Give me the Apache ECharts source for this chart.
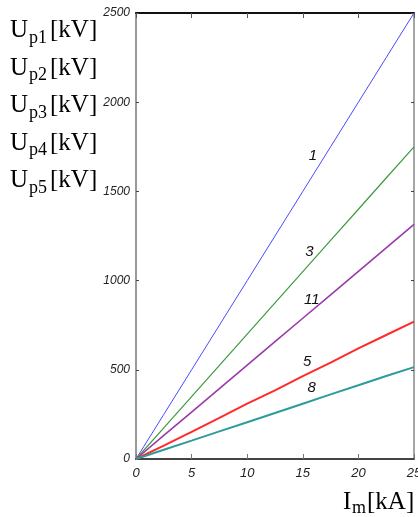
<!DOCTYPE html>
<html>
<head>
<meta charset="utf-8">
<script src="https://cdn.jsdelivr.net/npm/echarts@6/dist/echarts.min.js"></script>
<style>
  html, body { margin: 0; padding: 0; background: #fff; }
  #chart { width: 418px; height: 517px; }
</style>
</head>
<body>
<div id="chart"></div>
<script>
// Peak current Im [kA]
const currentKA = [0, 2.5, 5, 7.5, 10, 12.5, 15, 17.5, 20, 22.5, 25];

// Peak voltages Up [kV] for each curve
const curve1 = [0, 250, 500, 750, 1000, 1250, 1500, 1750, 2000, 2250, 2500];
const curve3 = [0, 175, 350, 525, 700, 875, 1050, 1225, 1400, 1575, 1750];
const curve11 = [0, 132, 263, 395, 526, 658, 789, 920, 1052, 1183, 1315];
const curve5 = [0, 75, 152, 230, 310, 385, 465, 540, 620, 695, 770];
const curve8 = [0, 52, 103, 155, 206, 258, 310, 362, 413, 465, 515];

const curveNames = ['1', '3', '11', '5', '8'];
const curveColors = ['#4a4aff', '#3f9a3f', '#9a3aaa', '#ff2a2a', '#2e9b9b'];
const curveWidths = [1, 1.2, 1.6, 2, 2];
// where each curve number is written (kA, kV)
const curveTagAt = [[15.9, 1697], [15.6, 1163], [15.8, 893], [15.4, 545], [15.8, 399]];

const xTicks = { min: 0, max: 25, step: 5 };
const yTicks = { min: 0, max: 2500, step: 500 };

const yLabels = ['U', 'U', 'U', 'U', 'U'];
const ySubs = ['p1', 'p2', 'p3', 'p4', 'p5'];

const tickFont = {
  fontFamily: '"Liberation Sans Narrow", "Liberation Sans", sans-serif',
  fontStyle: 'italic',
  color: '#222'
};

const allCurves = [curve1, curve3, curve11, curve5, curve8];

const series = allCurves.map((vals, i) => ({
  type: 'line',
  name: curveNames[i],
  data: currentKA.map((x, k) => [x, vals[k]]),
  showSymbol: false,
  symbol: 'none',
  lineStyle: { color: curveColors[i], width: curveWidths[i] },
  itemStyle: { color: curveColors[i] },
  silent: true,
  animation: false,
  markPoint: {
    symbol: 'circle',
    symbolSize: 0,
    silent: true,
    data: [{ coord: curveTagAt[i] }],
    label: {
      show: true,
      position: 'inside',
      formatter: curveNames[i],
      fontSize: 15,
      ...tickFont,
      color: '#111'
    }
  }
}));

const serif = '"Liberation Serif", "DejaVu Serif", serif';
const graphics = [];
yLabels.forEach((u, i) => {
  const base = 40 + i * 37.5;
  graphics.push({ type: 'text', left: 10, top: base - 22, style: { text: u, font: '25px ' + serif, fill: '#000' } });
  graphics.push({ type: 'text', left: 29, top: base - 11, style: { text: ySubs[i], font: '18px ' + serif, fill: '#000' } });
  graphics.push({ type: 'text', left: 50, top: base - 22, style: { text: '[kV]', font: '25px ' + serif, fill: '#000' } });
});
graphics.push({ type: 'text', left: 343, top: 490, style: { text: 'I', font: '25px ' + serif, fill: '#000' } });
graphics.push({ type: 'text', left: 352, top: 499, style: { text: 'm', font: '18px ' + serif, fill: '#000' } });
graphics.push({ type: 'text', left: 367, top: 490, style: { text: '[kA]', font: '25px ' + serif, fill: '#000' } });

const chart = echarts.init(document.getElementById('chart'), null, { renderer: 'canvas' });
chart.setOption({
  backgroundColor: '#fff',
  animation: false,
  grid: { left: 136, right: 4, top: 13, bottom: 58, containLabel: false, outerBoundsMode: 'none' },
  xAxis: [
    {
      type: 'value', position: 'bottom', min: xTicks.min, max: xTicks.max, interval: xTicks.step,
      axisLine: { show: true, onZero: false, lineStyle: { color: '#444', width: 2 } },
      axisTick: { show: true, inside: true, length: 5, lineStyle: { color: '#777', width: 1 } },
      axisLabel: { show: true, margin: 8, fontSize: 13, formatter: v => String(v), ...tickFont },
      splitLine: { show: false }
    },
    {
      type: 'value', position: 'top', min: xTicks.min, max: xTicks.max, interval: xTicks.step,
      axisLine: { show: true, onZero: false, lineStyle: { color: '#111', width: 2 } },
      axisTick: { show: true, inside: true, length: 5, lineStyle: { color: '#555', width: 1 } },
      axisLabel: { show: false },
      splitLine: { show: false }
    }
  ],
  yAxis: [
    {
      type: 'value', position: 'left', min: yTicks.min, max: yTicks.max, interval: yTicks.step,
      axisLine: { show: true, onZero: false, lineStyle: { color: '#999', width: 2 } },
      axisTick: { show: true, inside: true, length: 3, lineStyle: { color: '#444', width: 1 } },
      axisLabel: { show: true, margin: 6, fontSize: 12, formatter: v => String(v), ...tickFont },
      splitLine: { show: false }
    },
    {
      type: 'value', position: 'right', min: yTicks.min, max: yTicks.max, interval: yTicks.step,
      axisLine: { show: true, onZero: false, lineStyle: { color: '#888', width: 1.5 } },
      axisTick: { show: true, inside: true, length: 3, lineStyle: { color: '#444', width: 1 } },
      axisLabel: { show: false },
      splitLine: { show: false }
    }
  ],
  series: series,
  graphic: graphics
});
</script>
</body>
</html>
